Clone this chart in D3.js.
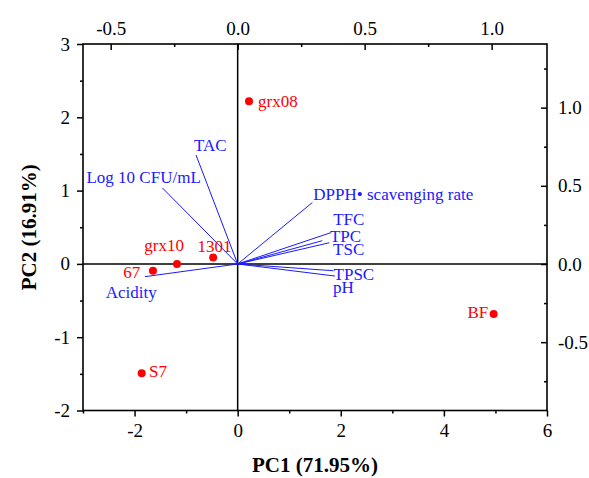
<!DOCTYPE html>
<html>
<head>
    <meta http-equiv="Content-Type" content="text/html;charset=utf-8">
    <title>PCA biplot</title>
    <script type="text/javascript" src="https://d3js.org/d3.v7.min.js"></script>
    <style>
        html, body { margin: 0; padding: 0; background: #fff; }
        text { font-family: "Liberation Serif", "Times New Roman", serif; }
        .tick text { font-size: 19px; fill: #000; }
        .tick line { stroke: #000; stroke-width: 1.5px; }
        text.axisTitle { font-size: 21px; font-weight: bold; }
        text.sampleText { font-size: 17px; fill: #ff0000; }
        text.varText { font-size: 17px; fill: #1a1aff; }
        line.loading { stroke: #1a1aff; stroke-width: 1px; }
        circle.dot { fill: #ff0000; }
    </style>
</head>
<body>
<script type="text/javascript">

    // scores (PC1, PC2) of the samples
    var sampleNames = ["grx08", "1301", "grx10", "67", "S7", "BF"];
    var pc1Scores = [0.22, -0.475, -1.177, -1.643, -1.862, 4.965];
    var pc2Scores = [2.22, 0.086, 0.0, -0.095, -1.491, -0.682];

    // loadings of the variables
    var variableNames = ["TAC", "Log 10 CFU/mL", "DPPH\u2022 scavenging rate", "TFC", "TPC", "TSC", "TPSC", "pH", "Acidity"];
    var pc1Loadings = [-0.164, -0.296, 0.294, 0.333, 0.366, 0.361, 0.376, 0.383, -0.365];
    var pc2Loadings = [0.697, 0.486, 0.393, 0.149, 0.200, 0.136, -0.043, -0.077, -0.081];

    // tick values
    var bottomTicks = [-2, 0, 2, 4, 6];
    var leftTicks = [-2, -1, 0, 1, 2, 3];
    var topTicks = [-0.5, 0.0, 0.5, 1.0];
    var rightTicks = [-0.5, 0.0, 0.5, 1.0];

    // hand placed label offsets (px) like the original figure
    var sampleLabelPos = {
        "grx08": [9, 6, "start"], "1301": [-15.6, -6, "start"], "grx10": [-32.7, -12.6, "start"],
        "67": [-29.7, 7.3, "start"], "S7": [7.3, 4, "start"], "BF": [-5.4, 4, "end"]
    };
    var varLabelPos = {
        "TAC": [-2, -4], "Log 10 CFU/mL": [-76, -5], "DPPH\u2022 scavenging rate": [1, -3],
        "TFC": [11, -15.7], "TPC": [-0.7, 9.3], "TSC": [3.7, 12.3],
        "TPSC": [0.4, 9.3], "pH": [-2, 17], "Acidity": [-39.3, 21]
    };

    var width = 589, height = 478;
    var plotLeft = 83, plotRight = 547, plotTop = 44, plotBottom = 410.5;

    var svg = d3.select("body").append("svg").attr("width", width).attr("height", height);

    var x = d3.scaleLinear().domain([-3, 6]).range([plotLeft, plotRight]);
    var y = d3.scaleLinear().domain([-2, 3]).range([plotBottom, plotTop]);
    // loading scales (top / right axes)
    var xl = d3.scaleLinear().domain([-0.609, 1.218]).range([plotLeft, plotRight]);
    var yl = d3.scaleLinear().domain([-0.937, 1.407]).range([plotBottom, plotTop]);

    var intFmt = function(d) { return String(d); };
    var decFmt = function(d) { return d.toFixed(1); };

    function addAxis(gen, tx, ty) {
        var g = svg.append("g").attr("class", "axis").attr("transform", "translate(" + tx + "," + ty + ")").call(gen);
        g.select(".domain").remove();
        return g;
    }

    // bottom
    addAxis(d3.axisBottom(x).tickValues(bottomTicks).tickFormat(intFmt).tickSize(6).tickPadding(7), 0, plotBottom);
    addAxis(d3.axisBottom(x).tickValues([-3, -1, 1, 3, 5]).tickFormat("").tickSize(3), 0, plotBottom);
    // left
    addAxis(d3.axisLeft(y).tickValues(leftTicks).tickFormat(intFmt).tickSize(6).tickPadding(7), plotLeft, 0);
    addAxis(d3.axisLeft(y).tickValues([-1.5, -0.5, 0.5, 1.5, 2.5]).tickFormat("").tickSize(3), plotLeft, 0);
    // top (ticks inward)
    addAxis(d3.axisTop(xl).tickValues(topTicks).tickFormat(decFmt).tickSize(-6).tickPadding(9), 0, plotTop);
    addAxis(d3.axisTop(xl).tickValues([-0.25, 0.25, 0.75]).tickFormat("").tickSize(-3), 0, plotTop);
    // right (ticks inward)
    addAxis(d3.axisRight(yl).tickValues(rightTicks).tickFormat(decFmt).tickSize(-6).tickPadding(11), plotRight, 0);
    addAxis(d3.axisRight(yl).tickValues([-0.75, -0.25, 0.25, 0.75, 1.25]).tickFormat("").tickSize(-3), plotRight, 0);

    // frame
    svg.append("rect")
        .attr("x", plotLeft).attr("y", plotTop)
        .attr("width", plotRight - plotLeft).attr("height", plotBottom - plotTop)
        .style("fill", "none").style("stroke", "#000").style("stroke-width", 1.6);

    // zero lines
    svg.append("line")
        .attr("x1", x(0)).attr("x2", x(0)).attr("y1", plotTop).attr("y2", plotBottom)
        .style("stroke", "#000").style("stroke-width", 1.5);
    svg.append("line")
        .attr("x1", plotLeft).attr("x2", plotRight).attr("y1", y(0)).attr("y2", y(0))
        .style("stroke", "#000").style("stroke-width", 1.5);

    // loading vectors
    var vars = variableNames.map(function(n, i) {
        return {name: n, px: pc1Loadings[i], py: pc2Loadings[i]};
    });
    svg.selectAll("line.loading")
        .data(vars).enter()
        .append("line")
        .attr("class", "loading")
        .attr("x1", xl(0)).attr("y1", yl(0))
        .attr("x2", function(d) { return xl(d.px); })
        .attr("y2", function(d) { return yl(d.py); });
    svg.selectAll("text.varText")
        .data(vars).enter()
        .append("text")
        .attr("class", "varText")
        .attr("x", function(d) { return xl(d.px) + varLabelPos[d.name][0]; })
        .attr("y", function(d) { return yl(d.py) + varLabelPos[d.name][1]; })
        .text(function(d) { return d.name; });

    // sample scores
    var samples = sampleNames.map(function(n, i) {
        return {name: n, sx: pc1Scores[i], sy: pc2Scores[i]};
    });
    svg.selectAll("circle.dot")
        .data(samples).enter()
        .append("circle")
        .attr("class", "dot")
        .attr("cx", function(d) { return x(d.sx); })
        .attr("cy", function(d) { return y(d.sy); })
        .attr("r", 4);
    svg.selectAll("text.sampleText")
        .data(samples).enter()
        .append("text")
        .attr("class", "sampleText")
        .attr("text-anchor", function(d) { return sampleLabelPos[d.name][2]; })
        .attr("x", function(d) { return x(d.sx) + sampleLabelPos[d.name][0]; })
        .attr("y", function(d) { return y(d.sy) + sampleLabelPos[d.name][1]; })
        .text(function(d) { return d.name; });

    // axis titles
    svg.append("text")
        .attr("class", "axisTitle")
        .attr("text-anchor", "middle")
        .attr("x", (plotLeft + plotRight) / 2)
        .attr("y", 472)
        .text("PC1 (71.95%)");
    svg.append("text")
        .attr("class", "axisTitle")
        .attr("text-anchor", "middle")
        .attr("transform", "translate(36," + ((plotTop + plotBottom) / 2) + ") rotate(-90)")
        .text("PC2 (16.91%)");

</script>
</body>
</html>
